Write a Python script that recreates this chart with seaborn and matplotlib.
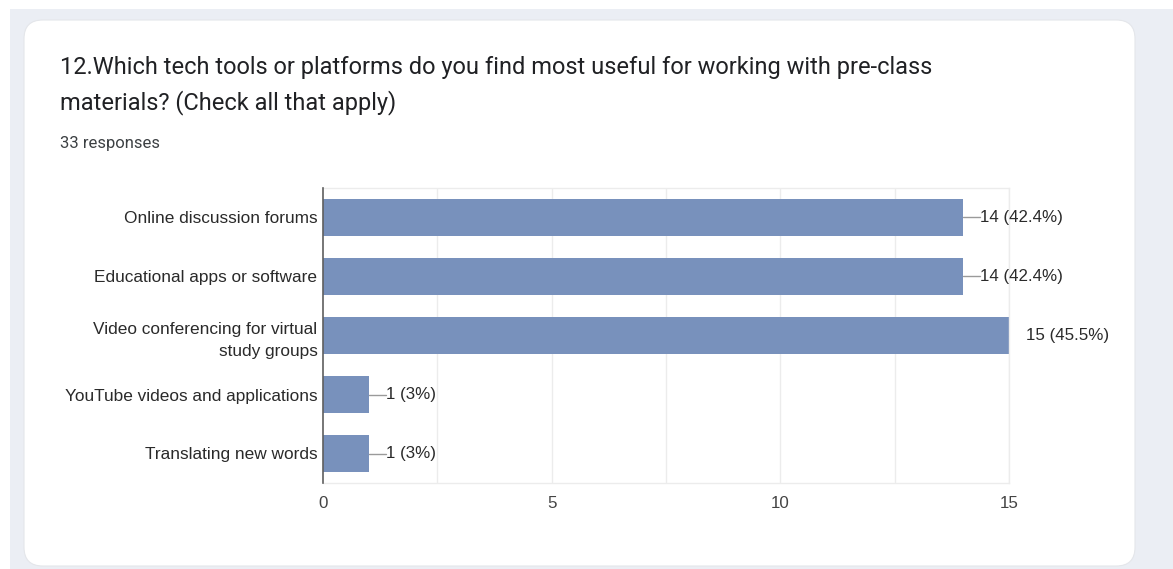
import matplotlib
matplotlib.use("Agg")
import matplotlib.pyplot as plt
from matplotlib.patches import FancyBboxPatch, Rectangle
import numpy as np
import pandas as pd
import seaborn as sns

# Survey answers and their counts
categories = [
    "Online discussion forums",
    "Educational apps or software",
    "Video conferencing for virtual\nstudy groups",
    "YouTube videos and applications",
    "Translating new words",
]
counts = [14, 14, 15, 1, 1]
total_responses = 33
x_ticks = [0, 5, 10, 15]

title = ("12.Which tech tools or platforms do you find most useful for working with pre-class\n"
         "materials? (Check all that apply)")
subtitle = f"{total_responses} responses"

BAR_COLOR = "#7891bc"
W, H = 1173, 569

sns.set_theme(style="white")
plt.rcParams["font.family"] = ["Liberation Sans", "DejaVu Sans"]

fig = plt.figure(figsize=(W / 100, H / 100), dpi=100)
fig.patch.set_facecolor("white")


def px(x, y):
    """Pixel position (from top-left) to figure fraction."""
    return x / W, 1 - y / H


# page background and card
fig.patches.append(Rectangle((10 / W, 0), 1, 1 - 9 / H, transform=fig.transFigure,
                             facecolor="#ebeef4", edgecolor="none", zorder=-3))
card = FancyBboxPatch((24 / W, 1 - 566 / H), (1135 - 24) / W, (566 - 20) / H,
                      boxstyle="round,pad=0,rounding_size=0.016",
                      mutation_aspect=W / H,
                      transform=fig.transFigure, facecolor="white",
                      edgecolor="#e4e6ea", linewidth=0.8, zorder=-2)
fig.patches.append(card)

# header texts
title_lines = title.split("\n")
fig.text(*px(60, 74), title_lines[0], family=["Roboto", "DejaVu Sans"],
         fontsize=17.0, color="#202124", va="baseline", ha="left")
fig.text(*px(60, 109), title_lines[1], family=["Roboto", "DejaVu Sans"],
         fontsize=17.0, color="#202124", va="baseline", ha="left")
fig.text(*px(60, 148), subtitle, family=["Roboto", "DejaVu Sans"],
         fontsize=12.0, color="#3c4043", va="baseline", ha="left")

# chart area
left, right, top, bottom = 323, 1009, 188, 483
ax = fig.add_axes([left / W, 1 - bottom / H, (right - left) / W, (bottom - top) / H])

df = pd.DataFrame({"category": categories, "count": counts})
sns.barplot(data=df, x="count", y="category", orient="h", color=BAR_COLOR,
            width=0.63, saturation=1, ax=ax, zorder=2, linewidth=0)

ax.set_xlim(0, 15)
ax.set_ylim(len(categories) - 0.5, -0.5)
ax.set_xlabel("")
ax.set_ylabel("")
ax.set_facecolor("none")

# vertical grid every 2.5
for gx in np.arange(2.5, 15.01, 2.5):
    ax.axvline(gx, color="#ececec", linewidth=1, zorder=0)

ax.set_xticks(x_ticks)
ax.set_xticklabels([str(t) for t in x_ticks], fontsize=12.2, color="#444444")
ax.tick_params(axis="x", length=0, pad=9)
ax.tick_params(axis="y", length=0, pad=4, labelsize=12.4, labelcolor="#2a2a2a")
for lbl in ax.get_yticklabels():
    lbl.set_linespacing(1.6)

for side in ["top", "right", "bottom"]:
    ax.spines[side].set_color("#ececec")
    ax.spines[side].set_linewidth(1)
ax.spines["left"].set_color("#5f5f5f")
ax.spines["left"].set_linewidth(1.2)
ax.spines["left"].set_zorder(4)

# value labels with short connector lines
px_per_unit = (right - left) / 15
conn = 17 / px_per_unit
for i, c in enumerate(counts):
    pct = round(c / total_responses * 100, 1)
    label = f"{c} ({pct:g}%)"
    ax.plot([c, c + conn], [i, i], color="#9a9a9a", linewidth=1, clip_on=True, zorder=3)
    ax.annotate(label, xy=(c, i), xytext=(17 * 0.72, 0), textcoords="offset points",
                ha="left", va="center", fontsize=12.2, color="#2a2a2a",
                annotation_clip=False)

fig.savefig("out.png", dpi=100)
